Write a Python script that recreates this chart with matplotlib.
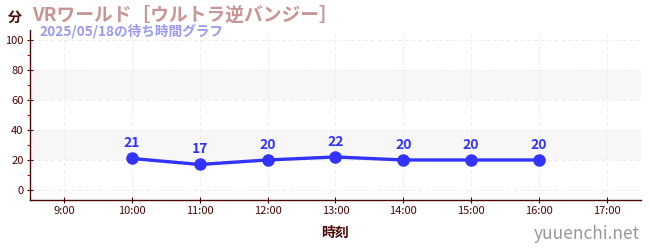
import matplotlib
matplotlib.use("Agg")
import matplotlib.pyplot as plt
from matplotlib.ticker import MultipleLocator

plt.rcParams['font.family'] = ['Noto Sans CJK JP', 'DejaVu Sans']

# data
hours = [10, 11, 12, 13, 14, 15, 16]
waits = [21, 17, 20, 22, 20, 20, 20]
tick_hours = [9, 10, 11, 12, 13, 14, 15, 16, 17]
tick_labels = [f"{h}:00" for h in tick_hours]

title = "VRワールド［ウルトラ逆バンジー］"
subtitle = "2025/05/18の待ち時間グラフ"

DARK = "#4a0606"

fig = plt.figure(figsize=(6.5, 2.5), dpi=100)
ax = fig.add_axes([0.046, 0.2, 0.94, 0.68])

ax.set_xlim(8.5, 17.5)
ax.set_ylim(-6.7, 106.7)

# alternating bands
for lo, hi in [(20, 40), (60, 80)]:
    ax.axhspan(lo, hi, color="#f7f7f7", zorder=0, lw=0)

ax.grid(True, which="major", color="#ececec", linestyle=(0, (4, 3)), linewidth=0.7)
ax.set_axisbelow(True)

ax.plot(hours, waits, color="#3333ff", linewidth=2.4, marker="o",
        markersize=8, zorder=3)
for h, w in zip(hours, waits):
    ax.annotate(str(w), (h, w), xytext=(0, 6), textcoords="offset points",
                ha="center", va="bottom", color="#3333ff",
                fontsize=10, fontweight="bold")

ax.set_xticks(tick_hours)
ax.set_xticklabels(tick_labels)
ax.set_yticks([0, 20, 40, 60, 80, 100])
ax.yaxis.set_minor_locator(MultipleLocator(10))

ax.tick_params(axis="both", which="major", direction="inout", length=5,
               color=DARK, labelcolor=DARK, labelsize=8, width=0.8, pad=2)
ax.tick_params(axis="y", which="minor", direction="out", length=2.5,
               color="#cc0000", width=0.8)

for side in ["top", "right"]:
    ax.spines[side].set_visible(False)
for side in ["left", "bottom"]:
    ax.spines[side].set_color(DARK)
    ax.spines[side].set_linewidth(1.0)

ax.set_xlabel("時刻", color=DARK, fontsize=10, fontweight="bold", labelpad=7)

fig.text(0.012, 0.93, "分", color=DARK, fontsize=10, fontweight="bold",
         ha="left", va="center")
fig.text(0.05, 0.94, title, color="#c89494", fontsize=13.5, fontweight="bold",
         ha="left", va="center")
fig.text(0.06, 0.875, subtitle, color="#9a9af0", fontsize=9.8, fontweight="bold",
         ha="left", va="center")
fig.text(0.985, 0.065, "yuuenchi.net", color="#999999", fontsize=12.5,
         ha="right", va="center")

fig.savefig("out.png", dpi=100)
